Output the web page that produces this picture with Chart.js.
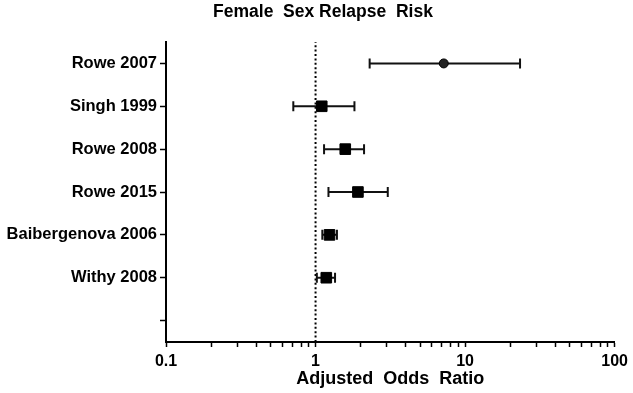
<!DOCTYPE html>
<html lang="en">
<head>
    <meta charset="UTF-8">
    <title>Female Sex Relapse Risk</title>
    <script src="https://cdn.jsdelivr.net/npm/chart.js"></script>
    <style>
        body {
            margin: 0;
            background: #fff;
        }
    </style>
</head>
<body>
    <canvas id="myChart" width="633" height="393"></canvas>

<script>
    // Study data
    const studies = ['Rowe 2007', 'Singh 1999', 'Rowe 2008', 'Rowe 2015', 'Baibergenova 2006', 'Withy 2008'];
    const oddsRatio = [7.2, 1.1, 1.58, 1.92, 1.24, 1.18];
    const lowerCI = [2.3, 0.71, 1.14, 1.22, 1.11, 1.02];
    const upperCI = [23.3, 1.82, 2.11, 3.04, 1.39, 1.35];
    const markerStyle = ['circle', 'rect', 'rect', 'rect', 'rect', 'rect'];

    // y axis has one blank row at the bottom
    const yLabels = studies.concat(['']);

    // x axis ticks (log scale) - only the decades get a label
    const decades = [0.1, 1, 10];
    const minorSteps = [1, 2, 3, 4, 5, 6, 7, 8, 9];
    const xLabelled = [0.1, 1, 10, 100];
    const xTickValues = [];
    decades.forEach((d) => {
        minorSteps.forEach((m) => xTickValues.push(+(d * m).toPrecision(3)));
    });
    xTickValues.push(100);

    const refLineValue = 1;

    Chart.defaults.font.family = "'Liberation Sans', Arial, sans-serif";
    Chart.defaults.font.weight = 'bold';
    Chart.defaults.color = '#000';

    // the title in the original sits a little right of the plot's left edge
    const titleShift = {
        id: 'titleShift',
        afterLayout(chart) {
            chart.titleBlock.left += 30;
        }
    };

    // one small line dataset per study for the CI bar with end caps
    const ciDatasets = studies.map((name, i) => ({
        data: [{ x: lowerCI[i], y: name }, { x: upperCI[i], y: name }],
        showLine: true,
        borderColor: '#111',
        borderWidth: 2,
        pointStyle: 'line',
        pointRotation: 90,
        pointRadius: 5,
        pointBorderWidth: 2,
        pointBorderColor: '#111',
        order: 1
    }));

    const ctx = document.getElementById('myChart');
    let myChart = new Chart(ctx, {
        type: 'scatter',
        data: {
            datasets: [{
                data: studies.map((name, i) => ({ x: oddsRatio[i], y: name })),
                pointStyle: markerStyle,
                pointRadius: markerStyle.map((s) => s === 'circle' ? 4.5 : 7.5),
                backgroundColor: markerStyle.map((s) => s === 'circle' ? '#222' : '#000'),
                borderColor: '#000',
                pointBorderWidth: 1,
                order: 0
            }].concat(ciDatasets).concat([{
                // dotted line of no effect at OR = 1
                data: [{ x: refLineValue, y: 0 }, { x: refLineValue, y: 1 }],
                yAxisID: 'y2',
                showLine: true,
                borderColor: '#000',
                borderWidth: 2,
                borderDash: [2, 2.4],
                pointRadius: 0,
                order: 2
            }])
        },
        options: {
            responsive: false,
            animation: false,
            events: [],
            layout: {
                autoPadding: false,
                padding: { left: 0, right: 17, top: 0, bottom: 0 }
            },
            scales: {
                x: {
                    type: 'logarithmic',
                    min: 0.1,
                    max: 100,
                    afterBuildTicks: (scale) => {
                        scale.ticks = xTickValues.map((v) => ({ value: v }));
                    },
                    afterFit: (scale) => { scale.height = 51; },
                    border: { display: true, color: '#000', width: 2 },
                    grid: {
                        drawOnChartArea: false,
                        drawTicks: true,
                        tickLength: 5,
                        tickWidth: 1.5,
                        tickColor: '#000'
                    },
                    ticks: {
                        autoSkip: false,
                        maxRotation: 0,
                        padding: 5,
                        font: { size: 16, weight: 'bold' },
                        callback: (value) => {
                            const hit = xLabelled.find((t) => Math.abs(t - value) < 1e-9);
                            return hit === undefined ? '' : String(hit);
                        }
                    },
                    title: {
                        display: true,
                        text: 'Adjusted  Odds  Ratio',
                        font: { size: 18, weight: 'bold' },
                        padding: { top: 0, bottom: 3 }
                    }
                },
                y: {
                    type: 'category',
                    labels: yLabels,
                    offset: true,
                    afterFit: (scale) => { scale.width = 166; },
                    border: { display: true, color: '#000', width: 2 },
                    grid: {
                        drawOnChartArea: false,
                        drawTicks: true,
                        offset: false,
                        tickLength: 6,
                        tickWidth: 1.5,
                        tickColor: '#000'
                    },
                    ticks: {
                        autoSkip: false,
                        padding: 3,
                        font: { size: 16.5, weight: 'bold' }
                    }
                },
                y2: {
                    type: 'linear',
                    display: false,
                    min: 0,
                    max: 1
                }
            },
            plugins: {
                legend: { display: false },
                tooltip: { enabled: false },
                title: {
                    display: true,
                    text: 'Female  Sex Relapse  Risk',
                    font: { size: 17.5, weight: 'bold' },
                    padding: { top: 2, bottom: 19 }
                }
            }
        },
        plugins: [titleShift]
    });
</script>
</body>
</html>
